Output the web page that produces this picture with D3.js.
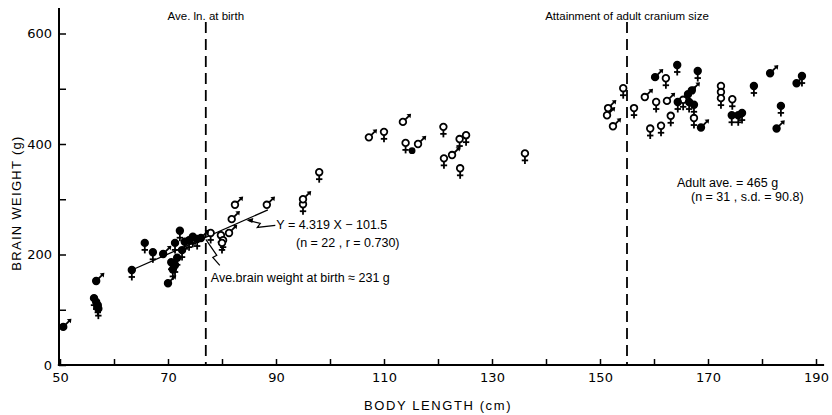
<!DOCTYPE html>
<html><head><meta charset="utf-8">
<script src="https://cdn.jsdelivr.net/npm/d3@7"></script>
<style>
html,body{margin:0;padding:0;background:#fff;}
text{font-family:"Liberation Sans",Arial,sans-serif;fill:#000;}
</style></head>
<body><svg id="c" width="832" height="415"></svg>
<script>
// ---- data: [body length (cm), brain weight (g)] ----
const femaleOpen = [
  [77.9,239],[79.8,235],[80.2,226],[80.0,221],[95,291],[98,349],[110,422],[114,402],
  [121,431],[124,409],[125.2,416],[121.1,374],[124.1,356],[136.1,383],
  [154.3,501],[156.3,465],[160.4,476],[162.2,519],[165.4,480],[163.1,451],[161.3,433],[159.3,428],
  [167.4,447],[172.4,505],[172.4,494],[172.4,483],[174.5,481]
];
const maleOpen = [
  [81.3,239],[81.8,264],[82.4,290],[88.3,290],[95,300],[107.2,412],[113.5,440],[116.3,400],[122.6,380],
  [151.5,465],[151.3,452],[152.4,432],[158.3,485],[162.4,478]
];
const femaleFilled = [
  [56.3,121],[56.7,114],[57,108],[57.1,102],[63.3,172],[65.7,221],[67.2,204],[71.3,221],[72.2,243],
  [70.6,186],[71.3,181],[71.7,194],[70.9,173],[72.6,208],[73.1,223],[73.9,226],[74.6,232],[75.4,228],
  [164.3,543],[164.4,476],[166.5,476],[167.4,471],[168.1,532],[174.4,452],[175.6,452],[176.3,456],
  [178.5,505],[183.5,469],[187.4,523]
];
const maleFilled = [
  [50.6,69],[56.7,152],[69.1,201],[70,148],[76.1,230],[160.2,521],[166.3,490],[167,497],
  [168.7,430],[181.5,528],[182.7,428],[186.4,510]
];
const dotFilled = [[115.2,388]];
const xTicks = [50,60,70,80,90,100,110,120,130,140,150,160,170,180,190];
const xTickLabels = [50,70,90,110,130,150,170,190];
const yTicks = [0,100,200,300,400,500,600];
const yTickLabels = [0,200,400,600];
const regression = {slope:4.319, intercept:-101.5, x0:63.3, x1:88.5};
const birthLength = 77, adultLength = 155;
const birthBrain = 231;

// ---- scales ----
const svg = d3.select("#c");
const x = d3.scaleLinear().domain([50,190]).range([60,816]);
const y = d3.scaleLinear().domain([0,600]).range([365,33.5]);

// axes
const xAxis = d3.axisBottom(x).tickValues(xTicks).tickSizeInner(-6).tickSizeOuter(0).tickPadding(8)
  .tickFormat(d => xTickLabels.includes(d) ? d : "");
const gx = svg.append("g").attr("transform",`translate(0,${y(0)})`).call(xAxis);
gx.select(".domain").remove();
gx.selectAll(".tick line").attr("stroke","#000").attr("stroke-width",1.5);
gx.selectAll("text").attr("font-size",13).style("font-family","'DejaVu Sans',sans-serif").attr("fill","#000");

const yAxis = d3.axisLeft(y).tickValues(yTicks).tickSizeInner(-7).tickSizeOuter(0).tickPadding(7)
  .tickFormat(d => yTickLabels.includes(d) ? d : "");
const gy = svg.append("g").attr("transform",`translate(${x(50)-1},0)`).call(yAxis);
gy.select(".domain").remove();
gy.selectAll(".tick line").attr("stroke","#000").attr("stroke-width",1.5);
gy.selectAll("text").attr("font-size",13).style("font-family","'DejaVu Sans',sans-serif").attr("fill","#000");

svg.append("line").attr("x1",x(49.6)).attr("x2",x(191.5)).attr("y1",y(0)).attr("y2",y(0))
  .attr("stroke","#000").attr("stroke-width",2);
svg.append("line").attr("x1",x(50)-1).attr("x2",x(50)-1).attr("y1",y(0)).attr("y2",y(646))
  .attr("stroke","#000").attr("stroke-width",2);

// axis titles
svg.append("text").attr("x",438).attr("y",410).attr("text-anchor","middle")
  .attr("font-size",13).attr("letter-spacing",1.6).text("BODY LENGTH (cm)");
svg.append("text").attr("transform","translate(21,203) rotate(-90)").attr("text-anchor","middle")
  .attr("font-size",13).attr("letter-spacing",1.3).text("BRAIN WEIGHT (g)");

// dashed reference lines
[[birthLength,"Ave. ln. at birth"],[adultLength,"Attainment of adult cranium size"]].forEach(([v,lab])=>{
  svg.append("line").attr("x1",x(v)).attr("x2",x(v)).attr("y1",22).attr("y2",y(0))
    .attr("stroke","#000").attr("stroke-width",1.8).attr("stroke-dasharray","11,6");
  svg.append("text").attr("x",x(v)).attr("y",20).attr("text-anchor","middle")
    .attr("font-size",11.5).text(lab);
});

// regression line
svg.append("line")
  .attr("x1",x(regression.x0)).attr("y1",y(regression.slope*regression.x0+regression.intercept))
  .attr("x2",x(regression.x1)).attr("y2",y(regression.slope*regression.x1+regression.intercept))
  .attr("stroke","#000").attr("stroke-width",1.3);

// symbols
const SW = 1.8, R = 3.3;
function female(g, filled){
  g.append("circle").attr("r",R).attr("fill",filled?"#000":"#fff").attr("stroke","#000").attr("stroke-width",SW);
  g.append("line").attr("x1",0).attr("x2",0).attr("y1",R).attr("y2",10.5).attr("stroke","#000").attr("stroke-width",SW);
  g.append("line").attr("x1",-3.2).attr("x2",3.2).attr("y1",7).attr("y2",7).attr("stroke","#000").attr("stroke-width",SW);
}
function male(g, filled){
  g.append("circle").attr("r",R).attr("fill",filled?"#000":"#fff").attr("stroke","#000").attr("stroke-width",SW);
  g.append("line").attr("x1",2.3).attr("y1",-2.3).attr("x2",6.6).attr("y2",-6.6).attr("stroke","#000").attr("stroke-width",SW);
  g.append("path").attr("d","M8.2,-8.2 L3.6,-7.6 L7.6,-3.6 Z").attr("fill","#000");
}
const layer = svg.append("g");
function plot(arr, fn, filled){
  layer.selectAll(null).data(arr).enter().append("g")
    .attr("transform",d=>`translate(${x(d[0])},${y(d[1])})`)
    .each(function(){ fn(d3.select(this), filled); });
}
plot(femaleOpen, female, false);
plot(maleOpen, male, false);
plot(femaleFilled, female, true);
plot(maleFilled, male, true);
layer.selectAll(null).data(dotFilled).enter().append("circle")
  .attr("cx",d=>x(d[0])).attr("cy",d=>y(d[1])).attr("r",3.4).attr("fill","#000");

// annotations
const eqX = 84.5, eqY = regression.slope*eqX+regression.intercept;
const ex = x(eqX), ey = y(eqY);
svg.append("path").attr("d",`M${ex+2},${ey+1} L${ex+14},${ey+4} L${ex+11},${ey+8} L${ex+29},${ey+6}`)
  .attr("fill","none").attr("stroke","#000").attr("stroke-width",1.2);
svg.append("path").attr("d",`M${ex},${ey+0.5} L${ex+7},${ey-1.5} L${ex+6},${ey+3.5} Z`).attr("fill","#000");
svg.append("text").attr("x",ex+30).attr("y",ey+10).attr("font-size",12.5).text("Y = 4.319 X − 101.5");
svg.append("text").attr("x",296).attr("y",ey+28).attr("font-size",12.5).text("(n = 22 , r = 0.730)");

const bx = x(birthLength), by = y(birthBrain);
svg.append("path").attr("d",`M${bx},${by+2} L${bx+11},${by+18} L${bx+7},${by+20} L${bx+14},${by+28}`)
  .attr("fill","none").attr("stroke","#000").attr("stroke-width",1.2);
svg.append("text").attr("x",bx+5).attr("y",by+45).attr("font-size",12.5).text("Ave.brain weight at birth ≈ 231 g");

svg.append("text").attr("x",677).attr("y",187).attr("font-size",12.5).text("Adult ave. = 465 g");
svg.append("text").attr("x",691).attr("y",201).attr("font-size",12.5).text("(n = 31 , s.d. = 90.8)");
</script></body></html>
